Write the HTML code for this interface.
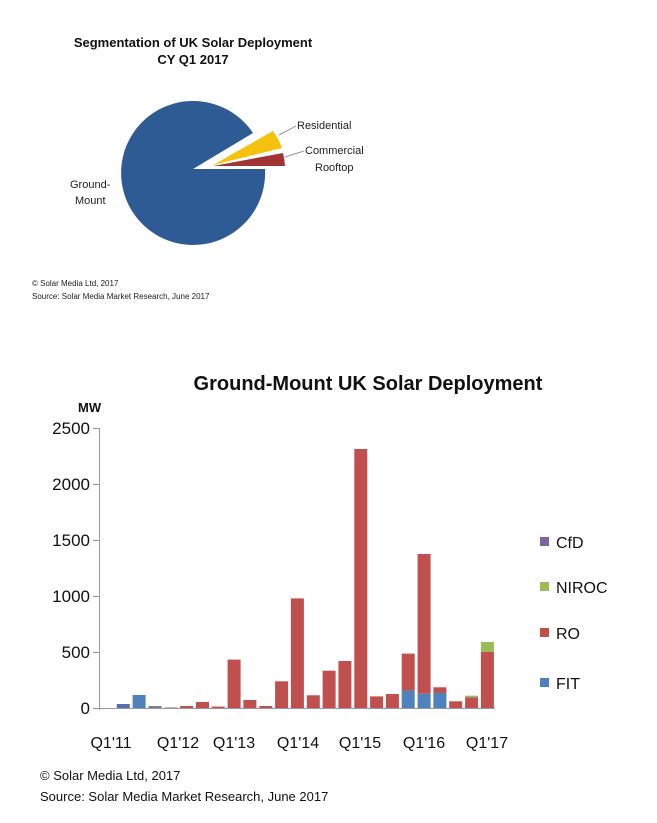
<!DOCTYPE html>
<html><head><style>
body{margin:0;background:#fff;}
svg{display:block;font-family:"Liberation Sans",sans-serif;}
</style></head><body>
<svg width="657" height="823" viewBox="0 0 657 823">
<g font-weight="bold" font-size="13" text-anchor="middle" fill="#111">
<text x="193" y="47">Segmentation of UK Solar Deployment</text>
<text x="193" y="64">CY Q1 2017</text>
</g>
<path d="M193,169 L253,133 A72,72 0 1 0 265,169 Z" fill="#2e5b94"/>
<path d="M213,165 L273,131 A72,72 0 0 1 282,148 Z" fill="#f4c20d"/>
<path d="M213,166 L283,153 A72,72 0 0 1 285,166 Z" fill="#a23533"/>
<line x1="279" y1="135" x2="296" y2="126" stroke="#999"/>
<line x1="285" y1="157" x2="304" y2="151" stroke="#999"/>
<g font-size="11" fill="#222">
<text x="297" y="129">Residential</text>
<text x="305" y="154">Commercial</text>
<text x="315" y="171">Rooftop</text>
<text x="70" y="188">Ground-</text>
<text x="75" y="204">Mount</text>
</g>
<g font-size="8" fill="#222">
<text x="32" y="286">© Solar Media Ltd, 2017</text>
<text x="32" y="299">Source: Solar Media Market Research, June 2017</text>
</g>
<text x="368" y="390" font-size="20" font-weight="bold" text-anchor="middle" fill="#111">Ground-Mount UK Solar Deployment</text>
<text x="78" y="412" font-size="13" font-weight="bold" fill="#111">MW</text>
<g font-size="17" text-anchor="end" fill="#111">
<text x="90" y="434">2500</text><text x="90" y="490">2000</text><text x="90" y="546">1500</text>
<text x="90" y="602">1000</text><text x="90" y="658">500</text><text x="90" y="714">0</text>
</g>
<g stroke="#999" stroke-width="1">
<line x1="99.5" y1="428" x2="99.5" y2="710"/>
<line x1="93" y1="428.5" x2="99" y2="428.5"/><line x1="93" y1="484.5" x2="99" y2="484.5"/>
<line x1="93" y1="540.5" x2="99" y2="540.5"/><line x1="93" y1="596.5" x2="99" y2="596.5"/>
<line x1="93" y1="652.5" x2="99" y2="652.5"/><line x1="93" y1="708.5" x2="495" y2="708.5"/>
</g>
<g fill="#4f81bd">
<rect x="116.8" y="704" width="13" height="4" fill="#5a6fae"/>
<rect x="132.6" y="695" width="13" height="13"/>
<rect x="148.5" y="706" width="13" height="2" fill="#7a7a9a"/>
<rect x="164.3" y="707.3" width="13" height="0.7" fill="#999"/>
<rect x="401.7" y="690.6" width="13" height="17.4"/>
<rect x="417.6" y="693.7" width="13" height="14.3"/>
<rect x="433.4" y="693" width="13" height="15"/>
</g>
<g fill="#c0504d">
<rect x="180.1" y="706" width="13" height="2"/>
<rect x="196.0" y="702" width="13" height="6"/>
<rect x="211.8" y="706.6" width="13" height="1.4"/>
<rect x="227.6" y="659.6" width="13" height="48.4"/>
<rect x="243.4" y="700" width="13" height="8"/>
<rect x="259.3" y="706" width="13" height="2"/>
<rect x="275.1" y="681.3" width="13" height="26.7"/>
<rect x="290.9" y="598.4" width="13" height="109.6"/>
<rect x="306.8" y="695.3" width="13" height="12.7"/>
<rect x="322.6" y="670.7" width="13" height="37.3"/>
<rect x="338.4" y="661" width="13" height="47"/>
<rect x="354.3" y="449" width="13" height="259"/>
<rect x="370.1" y="696.4" width="13" height="11.6"/>
<rect x="385.9" y="694" width="13" height="14"/>
<rect x="401.7" y="653.6" width="13" height="37"/>
<rect x="417.6" y="554" width="13" height="139.7"/>
<rect x="433.4" y="687.3" width="13" height="5.7"/>
<rect x="449.2" y="701.3" width="13" height="6.7"/>
<rect x="465.1" y="697.4" width="13" height="10.6"/>
<rect x="480.9" y="652" width="13" height="56"/>
</g>
<g fill="#9bbb59">
<rect x="465.1" y="695.7" width="13" height="1.7"/>
<rect x="480.9" y="642" width="13" height="10"/>
</g>
<g font-size="16" text-anchor="middle" fill="#111">
<text x="111" y="748">Q1'11</text><text x="178" y="748">Q1'12</text><text x="234" y="748">Q1'13</text>
<text x="298" y="748">Q1'14</text><text x="360" y="748">Q1'15</text><text x="424" y="748">Q1'16</text>
<text x="487" y="748">Q1'17</text>
</g>
<g font-size="16" fill="#111">
<rect x="540" y="537" width="9" height="9" fill="#8064a2"/><text x="556" y="548">CfD</text>
<rect x="540" y="582" width="9" height="9" fill="#9bbb59"/><text x="556" y="593">NIROC</text>
<rect x="540" y="628" width="9" height="9" fill="#c0504d"/><text x="556" y="639">RO</text>
<rect x="540" y="678" width="9" height="9" fill="#4f81bd"/><text x="556" y="689">FIT</text>
</g>
<g font-size="13" fill="#111">
<text x="40" y="780">© Solar Media Ltd, 2017</text>
<text x="40" y="801">Source: Solar Media Market Research, June 2017</text>
</g>
</svg>
</body></html>
